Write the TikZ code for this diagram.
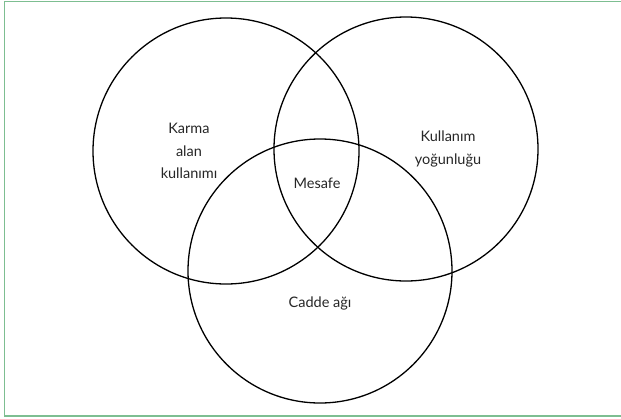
\documentclass[tikz,border=0pt]{standalone}
\usepackage{fontspec}
\setmainfont{Lato}
\definecolor{frame}{RGB}{125,190,145}
\begin{document}
\begin{tikzpicture}[x=1pt,y=-1pt,
  ring/.style={draw=black,line width=1.3pt},
  lbl/.style={font=\fontsize{14.5}{22.5}\selectfont,align=center,text=black!85}]
\useasboundingbox (0,0) rectangle (621,418);
\begin{scope}
\clip (0,0) rectangle (621,418);
\draw[frame,line width=1.8pt] (4.5,1.5) rectangle (630,416);
\end{scope}
\node[ring,circle,minimum size=266pt,inner sep=0pt] (L) at (226,151) {};
\node[ring,circle,minimum size=264pt,inner sep=0pt] (R) at (406,149) {};
\node[ring,circle,minimum size=264pt,inner sep=0pt] (B) at (320,271) {};
\node[lbl] (tl) at (189,151) {Karma\\alan\\kullanımı};
\node[lbl] (tr) at (448,149) {Kullanım\\yoğunluğu};
\node[lbl] (tm) at (317,183) {Mesafe};
\node[lbl] (tb) at (320,303) {Cadde ağı};
\end{tikzpicture}
\end{document}
